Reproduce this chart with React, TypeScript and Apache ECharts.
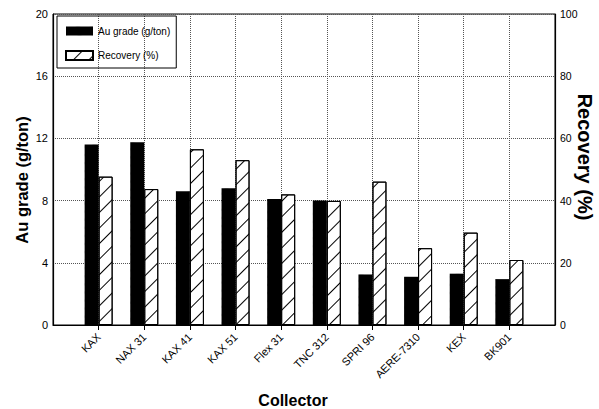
import React, { useEffect, useRef } from "react";
import * as echarts from "echarts";

// Collectors tested (x axis)
const categories = ["KAX", "NAX 31", "KAX 41", "KAX 51", "Flex 31", "TNC 312", "SPRI 96", "AERE-7310", "KEX", "BK901"];
// Au grade of the concentrate, g/ton (left axis)
const auGrade = [11.6, 11.75, 8.6, 8.8, 8.1, 8.0, 3.25, 3.1, 3.3, 2.95];
// Au recovery, % (right axis)
const recovery = [47.7, 43.7, 56.5, 53.0, 42.0, 39.9, 46.1, 24.7, 29.7, 20.9];

const gradeAxis = { min: 0, max: 20, interval: 4 };
const recoveryAxis = { min: 0, max: 100, interval: 20 };

const FONT = "'Liberation Sans', Arial, Helvetica, sans-serif";

export default function App() {
  const ref = useRef<HTMLDivElement>(null);

  useEffect(() => {
    if (!ref.current) return;
    const chart = echarts.init(ref.current, null, { renderer: "svg" });

    // an empty slot at each end keeps half-width margins inside the frame
    const axisCats = ["", ...categories, ""];
    const pad = (arr: number[]) => [null, ...arr, null];
    const notBlank = (_i: number, v: string) => v !== "";

    const titleStyle = (size: number) => ({
      fontSize: size,
      fontWeight: "bold",
      fill: "#000",
      fontFamily: FONT,
      align: "center",
      verticalAlign: "middle",
    });

    chart.setOption({
      animation: false,
      aria: { enabled: true, decal: { show: true } },
      textStyle: { fontFamily: FONT },
      grid: {
        left: 53,
        right: 44,
        top: 14,
        bottom: 84,
        show: true,
        borderColor: "#000",
        borderWidth: 1,
        backgroundColor: "transparent",
      },
      legend: {
        orient: "vertical",
        left: 57,
        top: 16,
        padding: [10, 6, 7, 8],
        itemGap: 14,
        itemWidth: 27,
        itemHeight: 9,
        borderColor: "#000",
        borderWidth: 1,
        textStyle: { fontSize: 10, color: "#000", fontFamily: FONT },
        data: [
          { name: "Au grade (g/ton)", icon: "rect" },
          { name: "Recovery (%)", icon: "rect" },
        ],
      },
      graphic: [
        { type: "text", x: 22, y: 180, rotation: Math.PI / 2, style: { text: "Au grade (g/ton)", ...titleStyle(16.5) } },
        { type: "text", x: 585, y: 157, rotation: -Math.PI / 2, style: { text: "Recovery (%)", ...titleStyle(20) } },
        { type: "text", x: 293, y: 400, style: { text: "Collector", ...titleStyle(16) } },
      ],
      xAxis: {
        type: "category",
        data: axisCats,
        boundaryGap: false,
        axisLine: { lineStyle: { color: "#000", width: 1.2 } },
        axisTick: { show: true, inside: false, length: 5, interval: notBlank, lineStyle: { color: "#000" } },
        axisLabel: { interval: 0, rotate: 45, fontSize: 11, color: "#000", margin: 10, fontFamily: FONT },
        splitLine: { show: true, interval: notBlank, lineStyle: { type: "dotted", color: "#555", width: 1 } },
      },
      yAxis: [
        {
          type: "value",
          position: "left",
          ...gradeAxis,
          axisLine: { show: true, lineStyle: { color: "#000", width: 1.2 } },
          axisTick: { show: false },
          axisLabel: { fontSize: 11, color: "#000", margin: 5, fontFamily: FONT },
          splitLine: { show: true, lineStyle: { type: "dotted", color: "#555", width: 1 } },
        },
        {
          type: "value",
          position: "right",
          ...recoveryAxis,
          axisLine: { show: true, lineStyle: { color: "#000", width: 1.2 } },
          axisTick: { show: false },
          axisLabel: { fontSize: 10.5, color: "#000", margin: 5, fontFamily: FONT },
          splitLine: { show: false },
        },
      ],
      series: [
        {
          name: "Au grade (g/ton)",
          type: "bar",
          yAxisIndex: 0,
          data: pad(auGrade),
          barWidth: 14,
          barGap: "0%",
          itemStyle: { color: "#000", decal: "none" },
        },
        {
          name: "Recovery (%)",
          type: "bar",
          yAxisIndex: 1,
          data: pad(recovery),
          barWidth: 14,
          barGap: "0%",
          itemStyle: {
            color: "#fff",
            borderColor: "#000",
            borderWidth: 1,
            decal: {
              symbol: "rect",
              symbolSize: 1,
              color: "#000",
              backgroundColor: "#fff",
              dashArrayX: [1, 0],
              dashArrayY: [1, 10],
              rotation: -Math.PI / 4,
            },
          },
        },
      ],
    });

    return () => chart.dispose();
  }, []);

  return <div ref={ref} style={{ width: 599, height: 409, position: "absolute", left: 0, top: 0 }} />;
}
